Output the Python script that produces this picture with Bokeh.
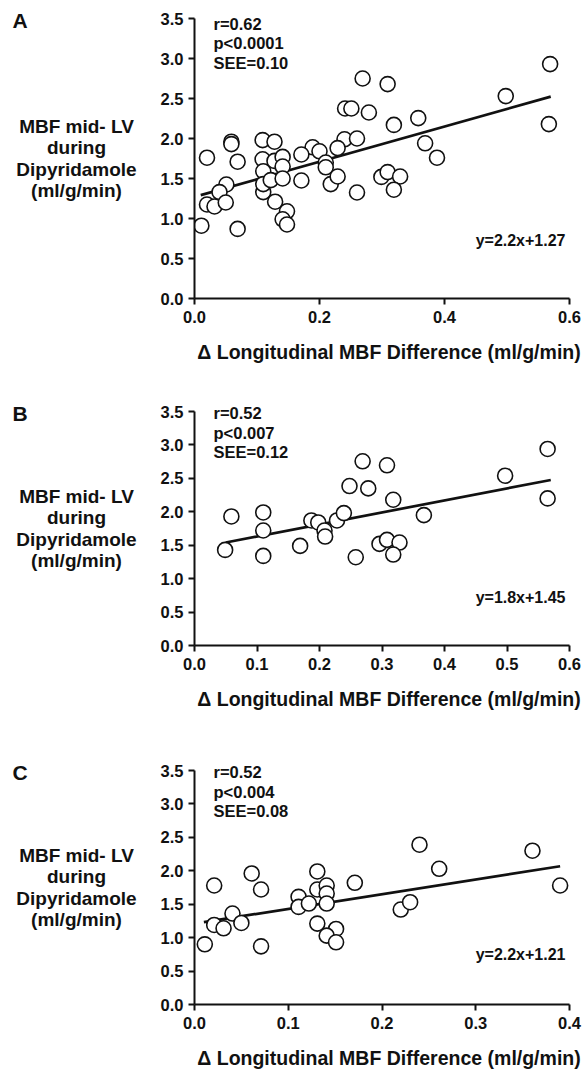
from bokeh.plotting import figure
from bokeh.layouts import column, row
from bokeh.models import Range1d, FixedTicker, NumeralTickFormatter
from bokeh.core.properties import value
from bokeh.embed import file_html
from bokeh.resources import INLINE

FONT = "Liberation Sans"
INK = "#111111"

# ---------------- data ----------------
X_TITLE = "\u0394 Longitudinal MBF Difference (ml/g/min)"
Y_TITLE_LINES = ["MBF mid- LV", "during", "Dipyridamole", "(ml/g/min)"]
Y_TICKS = [0.0, 0.5, 1.0, 1.5, 2.0, 2.5, 3.0, 3.5]
Y_MAX = 3.5

A_x = [0.569, 0.269, 0.309, 0.498, 0.241, 0.251, 0.279, 0.358, 0.319, 0.567,
       0.059, 0.059, 0.109, 0.128, 0.240, 0.260, 0.369, 0.189, 0.200, 0.229,
       0.171, 0.020, 0.069, 0.109, 0.128, 0.141, 0.388, 0.110, 0.141, 0.210,
       0.210, 0.051, 0.040, 0.110, 0.110, 0.122, 0.141, 0.171, 0.218, 0.229,
       0.260, 0.299, 0.309, 0.329, 0.319, 0.020, 0.032, 0.050, 0.011, 0.069,
       0.129, 0.148, 0.141, 0.148]
A_y = [2.93, 2.75, 2.68, 2.53, 2.375, 2.375, 2.325, 2.255, 2.17, 2.18,
       1.96, 1.93, 1.98, 1.96, 1.99, 2.00, 1.94, 1.89, 1.84, 1.88,
       1.80, 1.76, 1.71, 1.74, 1.72, 1.77, 1.76, 1.59, 1.65, 1.70,
       1.64, 1.425, 1.33, 1.33, 1.43, 1.48, 1.50, 1.475, 1.43, 1.525,
       1.325, 1.52, 1.58, 1.525, 1.36, 1.175, 1.15, 1.20, 0.91, 0.87,
       1.21, 1.09, 0.99, 0.925]
A_stats = ["r=0.62", "p<0.0001", "SEE=0.10"]
A_eq = "y=2.2x+1.27"
A_eq_y = 0.725
A_slope, A_intercept = 2.2, 1.27
A_fit_x = [0.01, 0.57]
A_xticks = [0.0, 0.2, 0.4, 0.6]

B_x = [0.565, 0.269, 0.308, 0.497, 0.248, 0.278, 0.318, 0.565, 0.059, 0.110,
       0.110, 0.187, 0.198, 0.208, 0.209, 0.228, 0.239, 0.367, 0.049, 0.110,
       0.169, 0.258, 0.296, 0.308, 0.328, 0.318]
B_y = [2.94, 2.755, 2.695, 2.54, 2.385, 2.35, 2.18, 2.20, 1.93, 1.99,
       1.72, 1.87, 1.84, 1.72, 1.63, 1.87, 1.98, 1.95, 1.43, 1.34,
       1.49, 1.32, 1.52, 1.58, 1.54, 1.36]
B_stats = ["r=0.52", "p<0.007", "SEE=0.12"]
B_eq = "y=1.8x+1.45"
B_eq_y = 0.72
B_slope, B_intercept = 1.8, 1.45
B_fit_x = [0.05, 0.57]
B_xticks = [0.0, 0.1, 0.2, 0.3, 0.4, 0.5, 0.6]

C_x = [0.240, 0.3605, 0.261, 0.390, 0.021, 0.061, 0.071, 0.131, 0.131, 0.141,
       0.141, 0.171, 0.111, 0.111, 0.122, 0.141, 0.0405, 0.021, 0.031, 0.050,
       0.011, 0.071, 0.131, 0.151, 0.141, 0.151, 0.220, 0.230]
C_y = [2.39, 2.30, 2.03, 1.78, 1.78, 1.96, 1.72, 1.99, 1.72, 1.78,
       1.66, 1.82, 1.61, 1.46, 1.51, 1.51, 1.36, 1.19, 1.14, 1.22,
       0.90, 0.87, 1.21, 1.13, 1.03, 0.93, 1.42, 1.53]
C_stats = ["r=0.52", "p<0.004", "SEE=0.08"]
C_eq = "y=2.2x+1.21"
C_eq_y = 0.75
C_slope, C_intercept = 2.2, 1.21
C_fit_x = [0.01, 0.39]
C_xticks = [0.0, 0.1, 0.2, 0.3, 0.4]

# ---------------- layout constants (pixels) ----------------
LEFT_W = 150          # width of the left text column
AXIS_BORDER = 44      # frame starts at LEFT_W + AXIS_BORDER = 194
FRAME_W = 375         # from x=0 to x=xmax
PAD = 14              # extra frame room (top / right) so texts are not clipped
RIGHT_BORDER = 585 - LEFT_W - AXIS_BORDER - FRAME_W - PAD


def panel(letter, xs, ys, slope, intercept, fit_x, xticks, stats, eq, eq_y,
          fig_top, y35, y0, fig_bottom, stats_off):
    xmax = xticks[-1]
    dx = xmax / FRAME_W
    plot_h = y0 - y35
    dy = Y_MAX / plot_h
    b_top = int(round(y35 - PAD - fig_top))
    b_bot = int(round(fig_bottom - y0))
    yr = (0, Y_MAX + PAD * dy)

    p = figure(frame_width=FRAME_W + PAD, frame_height=plot_h + PAD,
               x_range=Range1d(0, xmax + PAD * dx), y_range=Range1d(*yr),
               output_backend="svg", toolbar_location=None,
               min_border_left=AXIS_BORDER, min_border_right=RIGHT_BORDER,
               min_border_top=b_top, min_border_bottom=b_bot)
    p.outline_line_color = None
    p.grid.visible = False

    for ax in (p.xaxis[0], p.yaxis[0]):
        ax.axis_line_width = 2
        ax.axis_line_color = INK
        ax.major_tick_line_width = 2
        ax.major_tick_line_color = INK
        ax.major_tick_out = 6
        ax.major_tick_in = 0
        ax.minor_tick_line_color = None
        ax.major_label_text_font = FONT
        ax.major_label_text_font_style = "bold"
        ax.major_label_text_font_size = "16.5px"
        ax.major_label_text_color = INK
        ax.formatter = NumeralTickFormatter(format="0.0")

    p.xaxis.ticker = FixedTicker(ticks=xticks)
    p.yaxis.ticker = FixedTicker(ticks=Y_TICKS)
    p.xaxis.bounds = (0, xmax)
    p.yaxis.bounds = (0, Y_MAX)
    p.xaxis.major_label_standoff = 6
    p.yaxis.major_label_standoff = 5
    p.xaxis.axis_label = X_TITLE
    p.xaxis.axis_label_text_font = FONT
    p.xaxis.axis_label_text_font_style = "bold"
    p.xaxis.axis_label_text_font_size = "19.5px"
    p.xaxis.axis_label_text_color = INK
    p.xaxis.axis_label_standoff = 15

    # regression line
    p.line(fit_x, [slope * v + intercept for v in fit_x],
           line_color=INK, line_width=2.7)
    # data points
    p.scatter(xs, ys, marker="circle", size=15, fill_color="white",
              line_color=INK, line_width=1.6)

    # stats text (top-left inside the plot)
    p.text(x=[19 * dx] * len(stats),
           y=[Y_MAX - (stats_off + 19.5 * i) * dy for i in range(len(stats))],
           text=stats, text_font=value(FONT), text_font_style="bold",
           text_font_size="16.5px", text_color=INK,
           text_align="left", text_baseline="middle")
    # regression equation
    p.text(x=[(565 - 194) * dx], y=[eq_y], text=[eq], text_font=value(FONT),
           text_font_style="bold", text_font_size="16px", text_color=INK,
           text_align="right", text_baseline="middle")

    # left column (same vertical frame as p): panel letter and y title
    q = figure(width=LEFT_W, frame_width=LEFT_W, frame_height=plot_h + PAD,
               x_range=Range1d(0, LEFT_W), y_range=Range1d(*yr),
               x_axis_type=None, y_axis_type=None,
               output_backend="svg", toolbar_location=None,
               min_border_left=0, min_border_right=0,
               min_border_top=b_top, min_border_bottom=b_bot)
    q.outline_line_color = None
    q.grid.visible = False
    q.text(x=[12], y=[Y_MAX - 2 * dy], text=[letter],
           text_font=value(FONT), text_font_style="bold",
           text_font_size="21px", text_color=INK,
           text_align="left", text_baseline="middle")
    offs = [-32.25, -10.75, 10.75, 32.25]
    q.text(x=[76] * 4, y=[Y_MAX / 2 - o * dy for o in offs], text=Y_TITLE_LINES,
           text_font=value(FONT), text_font_style="bold",
           text_font_size="19px", text_color=INK,
           text_align="center", text_baseline="middle")
    return row(q, p, spacing=0)


pA = panel("A", A_x, A_y, A_slope, A_intercept, A_fit_x, A_xticks, A_stats,
           A_eq, A_eq_y, fig_top=0, y35=18, y0=298, fig_bottom=380, stats_off=5)
pB = panel("B", B_x, B_y, B_slope, B_intercept, B_fit_x, B_xticks, B_stats,
           B_eq, B_eq_y, fig_top=380, y35=411, y0=645, fig_bottom=730, stats_off=1.5)
pC = panel("C", C_x, C_y, C_slope, C_intercept, C_fit_x, C_xticks, C_stats,
           C_eq, C_eq_y, fig_top=730, y35=770, y0=1004, fig_bottom=1073, stats_off=1.5)

layout = column(pA, pB, pC, spacing=0)
open("out.html", "w").write(file_html(layout, INLINE))
